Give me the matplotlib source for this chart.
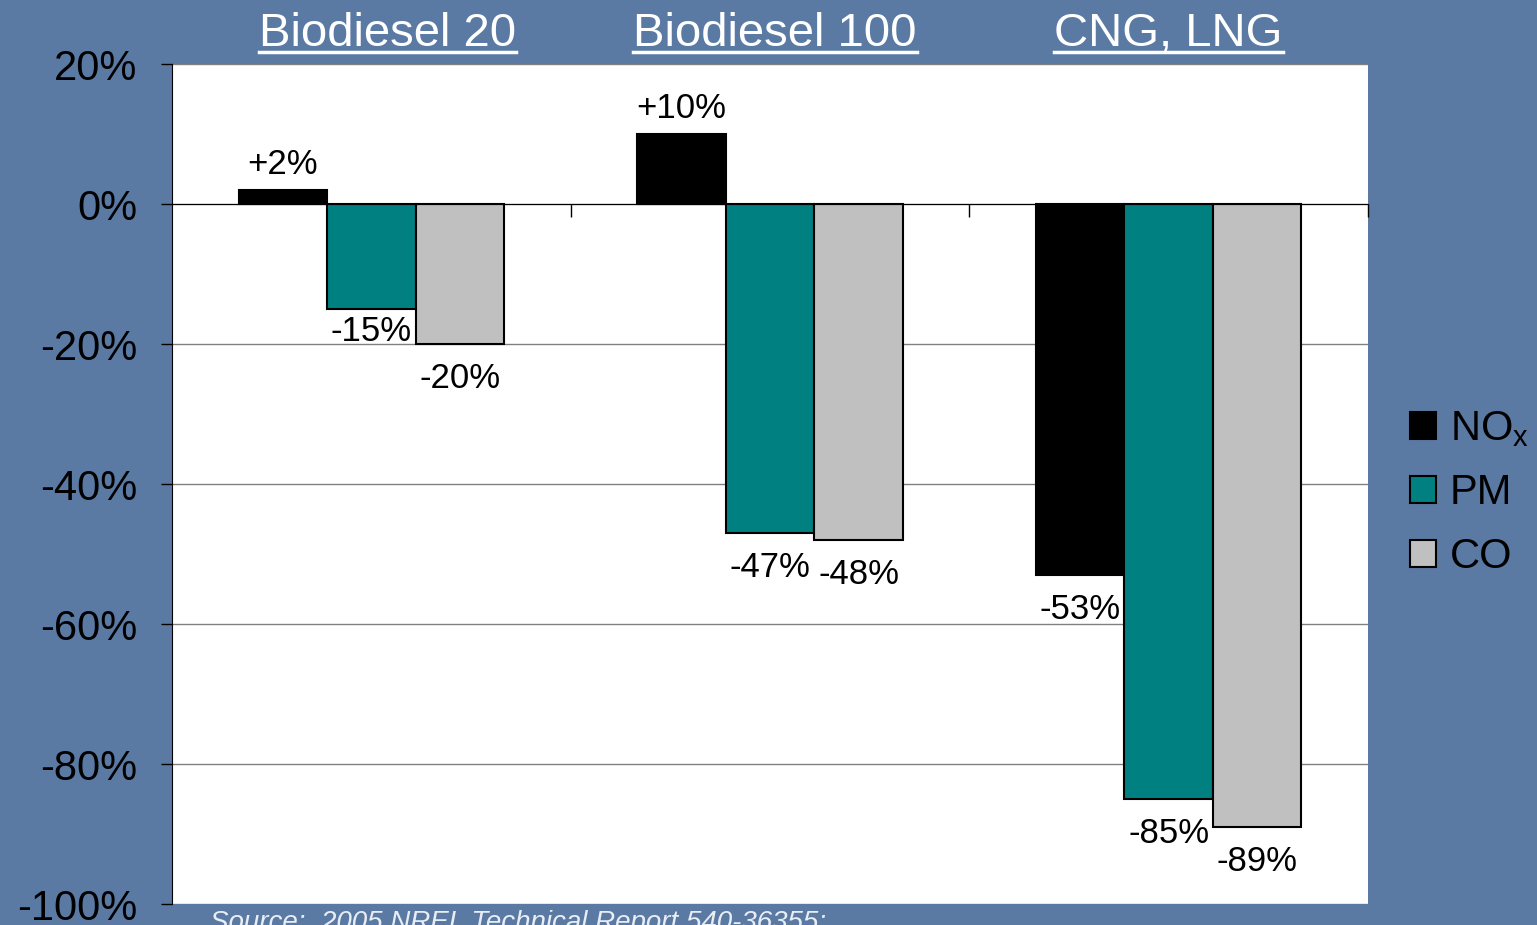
import matplotlib.pyplot as plt
from matplotlib.patches import Patch
from matplotlib.transforms import blended_transform_factory
import numpy as np

plt.rcParams['font.family'] = ['Liberation Sans', 'DejaVu Sans']

groups = ["Biodiesel 20", "Biodiesel 100", "CNG, LNG"]
series = ["NO$_\\mathregular{x}$", "PM", "CO"]
nox = [2, 10, -53]
pm = [-15, -47, -85]
co = [-20, -48, -89]
yticks = [20, 0, -20, -40, -60, -80, -100]

colors = ["#000000", "#008080", "#c0c0c0"]
bg = "#5a7aa4"

fig = plt.figure(figsize=(15.37, 9.25), dpi=100, facecolor=bg)
ax = fig.add_axes([172/1537, 1-904/925, (1368-172)/1537, (904-64)/925])
ax.set_facecolor("white")

x = np.arange(len(groups))
w = 0.222
for i, vals in enumerate([nox, pm, co]):
    bars = ax.bar(x + (i-1)*w, vals, w, color=colors[i], edgecolor="black",
                  linewidth=1.5, zorder=3)
    for b, v in zip(bars, vals):
        cx = b.get_x() + b.get_width()/2
        if v > 0:
            ax.annotate("+%d%%" % v, (cx, v), xytext=(0, 9), textcoords="offset pixels",
                        ha="center", va="bottom", fontsize=25)
        else:
            # the -15% label sits a bit higher in the original
            dy = -6 if v == -15 else -18
            ax.annotate("%d%%" % v, (cx, v), xytext=(0, dy), textcoords="offset pixels",
                        ha="center", va="top", fontsize=25)

ax.set_xlim(-0.5, 2.5)
ax.set_ylim(-100, 20)
ax.set_yticks(yticks)
ax.set_yticklabels(["%d%%" % t for t in yticks], fontsize=30)
ax.yaxis.grid(True, color="#808080", linewidth=1, zorder=0)
ax.set_xticks([0.5, 1.5, 2.5])
ax.set_xticklabels([])
ax.spines['bottom'].set_position(('data', 0))
ax.spines['bottom'].set_zorder(4)
ax.spines['top'].set_visible(False)
ax.spines['right'].set_visible(False)
ax.tick_params(axis='y', direction='out', length=8, width=1, pad=17)
ax.tick_params(axis='x', direction='out', length=9, width=1)

# group titles with underline
trans = blended_transform_factory(ax.transData, fig.transFigure)
fig.canvas.draw()
renderer = fig.canvas.get_renderer()
for i, g in enumerate(groups):
    t = fig.text(0, 0, g, transform=trans, color="white", fontsize=34, ha="center",
                 va="baseline")
    t.set_position((i + 0.04*(i == 0) + 0.012*(i == 1), 1 - 46/925))
    bb = t.get_window_extent(renderer)
    fig.add_artist(plt.Line2D([bb.x0/1537, bb.x1/1537], [1-52/925, 1-52/925],
                              transform=fig.transFigure, color="white", linewidth=2.5))

handles = [Patch(facecolor=c, edgecolor="black", linewidth=1.5) for c in colors]
fig.legend(handles, series, loc="upper left", bbox_to_anchor=(1410/1537, 1-409/925),
           frameon=False, fontsize=30, handlelength=0.63, handleheight=0.63,
           handletextpad=0.33, labelspacing=0.58, borderpad=0, borderaxespad=0)

fig.text(210/1537, 1-910/925, "Source:  2005 NREL Technical Report 540-36355;",
         color="#e8eef6", fontsize=20, style="italic", ha="left", va="top")

fig.savefig("out.png", dpi=100, facecolor=bg)
